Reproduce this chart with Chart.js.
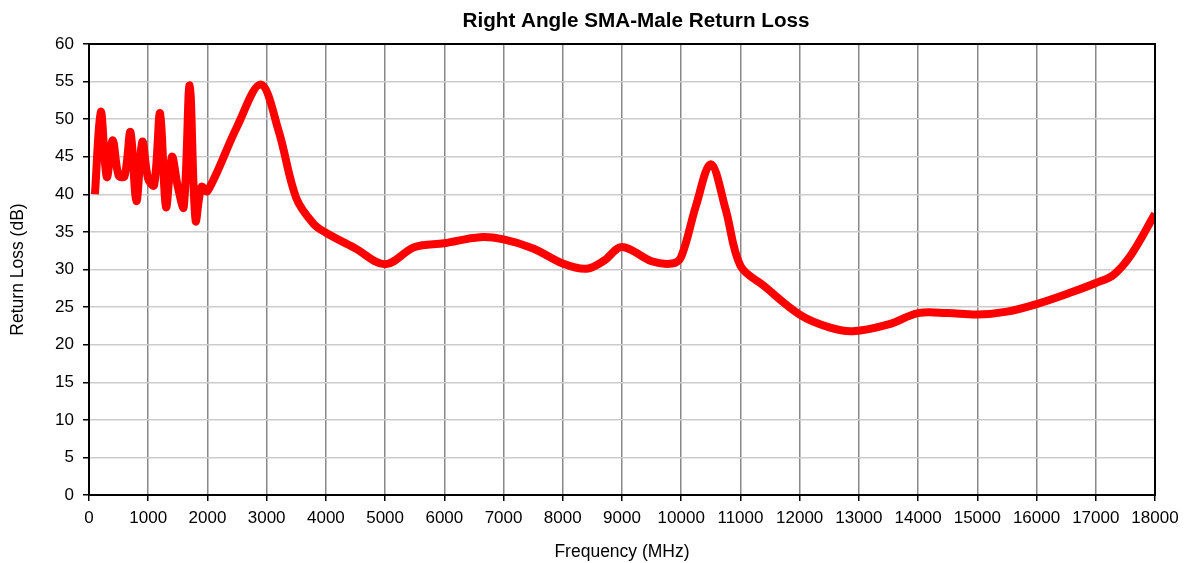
<!DOCTYPE html>
<html>
<head>
<meta charset="utf-8">
<title>Right Angle SMA-Male Return Loss</title>
<script src="https://cdn.jsdelivr.net/npm/chart.js@4"></script>
<style>
  html, body { margin: 0; padding: 0; background: #fff; }
  #wrap { width: 1186px; height: 563px; }
</style>
</head>
<body>
<div id="wrap"><canvas id="chart" width="1186" height="563"></canvas></div>
<script>
// -------- Data -----------------------------------
const freqMHz = [
  100, 200, 300, 400, 500, 600, 700, 800, 900, 1000,
  1100, 1200, 1300, 1400, 1500, 1600, 1700, 1800, 1900, 2000,
  2500, 2900, 3200, 3500, 3800, 4000, 4500, 5000, 5500,
  6000, 6600, 7000, 7500, 8000, 8400, 8700, 9000, 9500, 9850,
  10000, 10250, 10500, 10750, 11000, 11400, 12000, 12500, 12900, 13500,
  14000, 14500, 15000, 15500, 16000, 16600, 17000, 17300, 17600, 18000
];
const returnLoss = [
  40, 51, 42.3, 47.2, 42.5, 42.4, 48.3, 39.1, 47, 42,
  41.2, 50.8, 38.3, 45, 41, 38.3, 54.5, 36.5, 41, 40.4,
  49, 54.6, 48.5, 39.5, 36, 34.9, 32.8, 30.7, 33,
  33.5, 34.3, 34, 32.8, 30.8, 30.1, 31.2, 33, 31.1, 30.8,
  31.7, 38.5, 44, 38, 30.5, 27.8, 24, 22.3, 21.8, 22.7,
  24.2, 24.2, 24, 24.4, 25.4, 27, 28.2, 29.3, 32, 37.4
];
const xTicks = { min: 0, max: 18000, step: 1000 };
const yTicks = { min: 0, max: 60, step: 5 };
const chartTitle = "Right Angle SMA-Male Return Loss";

const FONT = "'Liberation Sans', Arial, sans-serif";

// black frame round the plot area, and the title (sits right of centre in the original)
const frame = {
  id: "frame",
  afterDatasetsDraw(chart) {
    const { ctx, chartArea: a } = chart;
    ctx.save();
    ctx.strokeStyle = "#000";
    ctx.lineWidth = 2;
    ctx.strokeRect(a.left, a.top, a.right - a.left, a.bottom - a.top);
    ctx.restore();
  },
  afterDraw(chart) {
    const { ctx } = chart;
    ctx.save();
    ctx.fillStyle = "#000";
    ctx.font = `bold 20.7px ${FONT}`;
    ctx.textAlign = "center";
    ctx.textBaseline = "middle";
    ctx.fillText(chartTitle, 636, 21);
    ctx.restore();
  }
};

const points = freqMHz.map((f, i) => ({ x: f, y: returnLoss[i] }));

new Chart(document.getElementById("chart"), {
  type: "line",
  data: {
    datasets: [{
      label: "Return Loss",
      data: points,
      borderColor: "#ff0000",
      borderWidth: 8,
      pointRadius: 0,
      tension: 0.35,
      fill: false
    }]
  },
  options: {
    responsive: false,
    animation: false,
    layout: { padding: { left: 0, right: 31, top: 44, bottom: 0 } },
    plugins: {
      legend: { display: false },
      tooltip: { enabled: false },
      title: { display: false }
    },
    scales: {
      x: {
        type: "linear",
        min: xTicks.min, max: xTicks.max,
        afterFit: s => { s.height = 68; },
        ticks: {
          stepSize: xTicks.step,
          autoSkip: false,
          maxRotation: 0,
          color: "#000",
          padding: 7,
          font: { family: FONT, size: 17 },
          callback: v => String(v)
        },
        grid: { color: "#888", lineWidth: 1.5, tickColor: "#000", tickLength: 6 },
        border: { color: "#000", width: 2 },
        title: {
          display: true,
          text: "Frequency (MHz)",
          color: "#000",
          font: { family: FONT, size: 17.5 },
          padding: { top: 0, bottom: 0 }
        }
      },
      y: {
        type: "linear",
        min: yTicks.min, max: yTicks.max,
        afterFit: s => { s.width = 89; },
        ticks: {
          stepSize: yTicks.step,
          color: "#000",
          padding: 9,
          font: { family: FONT, size: 17 }
        },
        grid: { color: "#ccc", lineWidth: 1.5, tickColor: "#000", tickLength: 6 },
        border: { color: "#000", width: 2 },
        title: {
          display: true,
          text: "Return Loss (dB)",
          color: "#000",
          font: { family: FONT, size: 17.5 },
          padding: { top: 8, bottom: 0 }
        }
      }
    }
  },
  plugins: [frame]
});
</script>
</body>
</html>
